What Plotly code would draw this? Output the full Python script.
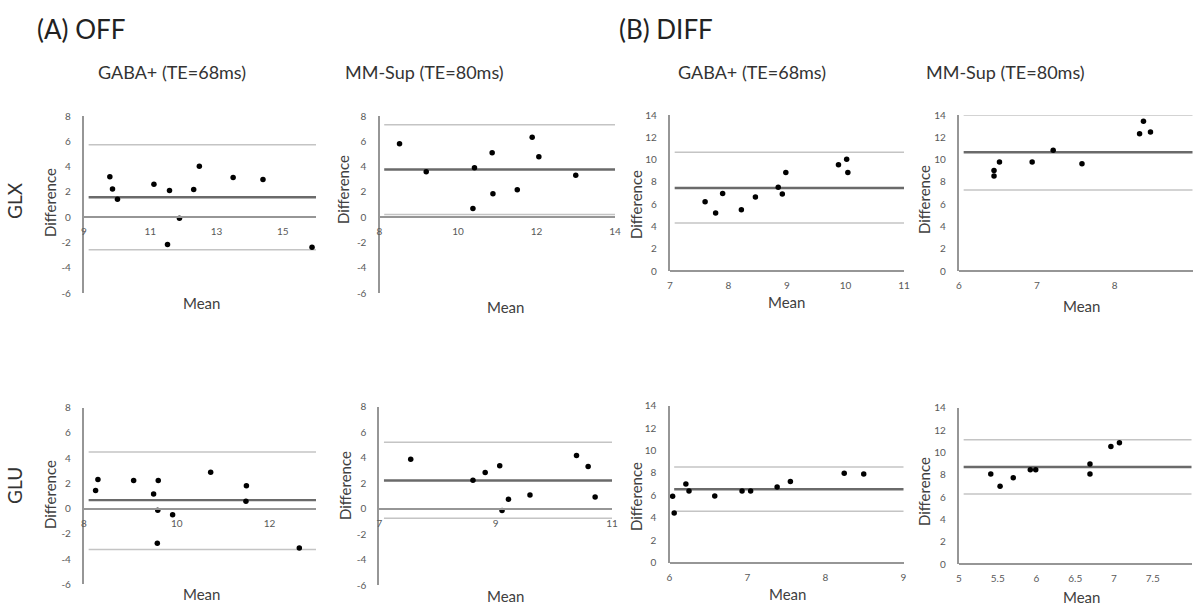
import plotly.graph_objects as go

W, H = 1194, 606

# ---------------- data ----------------
# (A) OFF, GABA+ (TE=68ms), GLX
off_gaba_glx_mean = [9.78, 9.86, 10.01, 11.11, 11.58, 11.52, 11.88, 12.31, 12.48, 13.5, 14.4, 15.88]
off_gaba_glx_diff = [3.2, 2.23, 1.42, 2.6, 2.1, -2.17, -0.08, 2.18, 4.02, 3.13, 2.97, -2.39]
off_gaba_glx_lines = [5.72, 1.57, -2.57]          # upper LoA, bias, lower LoA

# (A) OFF, MM-Sup (TE=80ms), GLX
off_mm_glx_mean = [8.51, 9.19, 10.38, 10.42, 10.87, 10.89, 11.51, 11.89, 12.06, 13.0]
off_mm_glx_diff = [5.8, 3.59, 0.69, 3.9, 5.09, 1.85, 2.17, 6.32, 4.77, 3.32]
off_mm_glx_lines = [7.3, 3.77, 0.2]

# (B) DIFF, GABA+ (TE=68ms), GLX
diff_gaba_glx_mean = [7.6, 7.78, 7.9, 8.22, 8.46, 8.85, 8.92, 8.98, 9.88, 10.02, 10.04]
diff_gaba_glx_diff = [6.24, 5.22, 6.96, 5.52, 6.66, 7.52, 6.93, 8.84, 9.55, 10.03, 8.84]
diff_gaba_glx_lines = [10.66, 7.46, 4.33]

# (B) DIFF, MM-Sup (TE=80ms), GLX
diff_mm_glx_mean = [6.45, 6.45, 6.52, 6.94, 7.21, 7.58, 8.32, 8.37, 8.46]
diff_mm_glx_diff = [9.02, 8.54, 9.79, 9.79, 10.84, 9.64, 12.33, 13.44, 12.48]
diff_mm_glx_lines = [14.0, 10.66, 7.28]

# (A) OFF, GABA+ (TE=68ms), GLU
off_gaba_glu_mean = [8.25, 8.3, 9.07, 9.5, 9.6, 9.59, 9.58, 9.91, 10.73, 11.5, 11.49, 12.64]
off_gaba_glu_diff = [1.44, 2.3, 2.22, 1.15, 2.22, -0.13, -2.74, -0.48, 2.88, 1.82, 0.59, -3.12]
off_gaba_glu_lines = [4.48, 0.67, -3.25]

# (A) OFF, MM-Sup (TE=80ms), GLU
off_mm_glu_mean = [7.54, 8.61, 8.82, 9.07, 9.11, 9.22, 9.59, 10.39, 10.59, 10.71]
off_mm_glu_diff = [3.88, 2.23, 2.83, 3.36, -0.16, 0.73, 1.07, 4.17, 3.31, 0.91]
off_mm_glu_lines = [5.2, 2.2, -0.76]

# (B) DIFF, GABA+ (TE=68ms), GLU
diff_gaba_glu_mean = [6.04, 6.06, 6.21, 6.25, 6.58, 6.93, 7.04, 7.38, 7.55, 8.24, 8.49]
diff_gaba_glu_diff = [5.92, 4.43, 7.02, 6.4, 5.95, 6.4, 6.4, 6.75, 7.23, 7.97, 7.91]
diff_gaba_glu_lines = [8.54, 6.55, 4.58]

# (B) DIFF, MM-Sup (TE=80ms), GLU
diff_mm_glu_mean = [5.41, 5.53, 5.7, 5.92, 5.99, 6.69, 6.69, 6.96, 7.07]
diff_mm_glu_diff = [8.07, 6.97, 7.74, 8.45, 8.45, 8.96, 8.07, 10.54, 10.87]
diff_mm_glu_lines = [11.14, 8.7, 6.28]

# tick labels
y_ticks_off = [-6, -4, -2, 0, 2, 4, 6, 8]
y_ticks_diff = [0, 2, 4, 6, 8, 10, 12, 14]
x_ticks_p1 = [9, 11, 13, 15]
x_ticks_p2 = [8, 10, 12, 14]
x_ticks_p3 = [7, 8, 9, 10, 11]
x_ticks_p4 = [6, 7, 8, 9]
x_ticks_p5 = [8, 10, 12]
x_ticks_p6 = [7, 9, 11]
x_ticks_p7 = [6, 7, 8, 9]
x_ticks_p8 = [5, 5.5, 6, 6.5, 7, 7.5, 8]

section_titles = ["(A) OFF", "(B) DIFF"]
column_titles = ["GABA+ (TE=68ms)", "MM-Sup (TE=80ms)", "GABA+ (TE=68ms)", "MM-Sup (TE=80ms)"]
row_titles = ["GLX", "GLU"]
x_title = "Mean"
y_title = "Difference"

# ---------------- layout of panels (pixel geometry) ----------------
def lab(v):
    return "%g" % v

panels = [
    # data x, data y, lines, xrange, xticks, yrange, yticks, plot box px (x0,x1,ytop,ybot), diff-title pos, mean-title pos
    (off_gaba_glx_mean, off_gaba_glx_diff, off_gaba_glx_lines, [9, 16], x_ticks_p1, [-6, 8], y_ticks_off,
     (84, 316, 116, 293), (50, 203), (201, 303)),
    (off_mm_glx_mean, off_mm_glx_diff, off_mm_glx_lines, [8, 14], x_ticks_p2, [-6, 8], y_ticks_off,
     (379.5, 615, 116, 293), (343, 190), (505, 307)),
    (diff_gaba_glx_mean, diff_gaba_glx_diff, diff_gaba_glx_lines, [7, 11], x_ticks_p3, [0, 14], y_ticks_diff,
     (670, 904, 115, 271.3), (636, 205), (786, 302)),
    (diff_mm_glx_mean, diff_mm_glx_diff, diff_mm_glx_lines, [6, 9], x_ticks_p4, [0, 14], y_ticks_diff,
     (959, 1192.5, 115, 271.3), (924, 200), (1081, 306)),
    (off_gaba_glu_mean, off_gaba_glu_diff, off_gaba_glu_lines, [8, 13], x_ticks_p5, [-6, 8], y_ticks_off,
     (84, 316, 407.7, 584.3), (50, 495), (201, 594)),
    (off_mm_glu_mean, off_mm_glu_diff, off_mm_glu_lines, [7, 11], x_ticks_p6, [-6, 8], y_ticks_off,
     (379.3, 612, 406.7, 585), (345, 485), (505, 596)),
    (diff_gaba_glu_mean, diff_gaba_glu_diff, diff_gaba_glu_lines, [6, 9], x_ticks_p7, [0, 14], y_ticks_diff,
     (669.5, 903.5, 405.7, 562.7), (636, 497), (787, 594)),
    (diff_mm_glu_mean, diff_mm_glu_diff, diff_mm_glu_lines, [5, 8], x_ticks_p8, [0, 14], y_ticks_diff,
     (959, 1191.5, 407.7, 564.3), (924, 492), (1081, 597)),
]

FONT = "Lato"
TICK_COLOR = "#595959"
AXIS_COLOR = "#969696"

fig = go.Figure()
layout = dict(
    template="none",
    width=W, height=H, margin=dict(l=0, r=0, t=0, b=0, autoexpand=False),
    paper_bgcolor="white", plot_bgcolor="white", showlegend=False,
    font=dict(family=FONT, color="#404040"),
)
shapes = []
annotations = []

for i, (xs, ys, lines, xr, xt, yr, yt, box, dpos, mpos) in enumerate(panels):
    n = "" if i == 0 else str(i + 1)
    xa, ya = "xaxis" + n, "yaxis" + n
    xref, yref = "x" + n, "y" + n
    x0, x1, yt_px, yb_px = box
    dom_x = [x0 / W, x1 / W]
    dom_y = [1 - yb_px / H, 1 - yt_px / H]
    # x axis crosses at difference = 0
    pos = dom_y[0] + (0 - yr[0]) / (yr[1] - yr[0]) * (dom_y[1] - dom_y[0])

    layout[xa] = dict(
        domain=dom_x, range=xr, anchor="free", position=pos, automargin=False,
        showgrid=False, zeroline=False, showline=True, linecolor=AXIS_COLOR, linewidth=2,
        tickvals=xt, ticktext=[lab(v) for v in xt], ticks="", ticklabelstandoff=5,
        tickfont=dict(family=FONT, size=10, color=TICK_COLOR), fixedrange=True,
    )
    layout[ya] = dict(
        domain=dom_y, range=yr, anchor=xref, automargin=False,
        showgrid=False, zeroline=False, showline=True, linecolor=AXIS_COLOR, linewidth=2.2,
        tickvals=yt, ticktext=[lab(v) for v in yt], ticks="", ticklabelstandoff=9,
        tickfont=dict(family=FONT, size=10, color=TICK_COLOR), fixedrange=True,
    )

    upper, bias, lower = lines
    for val, col, wid in ((upper, "#c4c4c4", 1.5), (lower, "#c4c4c4", 1.5), (bias, "#6a6a6a", 2.4)):
        shapes.append(dict(type="line", xref=xref + " domain", yref=yref, x0=0.02, x1=1,
                           y0=val, y1=val, line=dict(color=col, width=wid), layer="below"))

    fig.add_trace(go.Scatter(x=xs, y=ys, mode="markers", xaxis=xref, yaxis=yref,
                             marker=dict(color="black", size=5.5), cliponaxis=False,
                             hoverinfo="x+y"))

    annotations.append(dict(text=y_title, x=dpos[0] / W, y=1 - dpos[1] / H, xref="paper", yref="paper",
                            showarrow=False, textangle=-90, xanchor="center", yanchor="middle",
                            font=dict(family=FONT, size=15, color="#404040")))
    annotations.append(dict(text=x_title, x=mpos[0] / W, y=1 - mpos[1] / H, xref="paper", yref="paper",
                            showarrow=False, xanchor="center", yanchor="middle",
                            font=dict(family=FONT, size=15, color="#404040")))

# section titles
for t, px in zip(section_titles, [35, 617]):
    annotations.append(dict(text=t, x=px / W, y=1 - 29 / H, xref="paper", yref="paper", showarrow=False,
                            xanchor="left", yanchor="middle", font=dict(family=FONT, size=26, color="#222222")))
# column titles
for t, px in zip(column_titles, [171.7, 424, 751.7, 1005]):
    annotations.append(dict(text=t, x=px / W, y=1 - 72 / H, xref="paper", yref="paper", showarrow=False,
                            xanchor="center", yanchor="middle", font=dict(family=FONT, size=18, color="#333333")))
# row titles
for t, py in zip(row_titles, [201, 486]):
    annotations.append(dict(text=t, x=14 / W, y=1 - py / H, xref="paper", yref="paper", showarrow=False,
                            textangle=-90, xanchor="center", yanchor="middle",
                            font=dict(family=FONT, size=19, color="#333333")))

layout["shapes"] = shapes
layout["annotations"] = annotations
fig.update_layout(**layout)
fig.write_html(
    "out.html",
    config={"displayModeBar": False},
    post_script="document.body.style.margin='0';document.body.style.padding='0';"
                "document.documentElement.style.overflow='hidden';",
)
